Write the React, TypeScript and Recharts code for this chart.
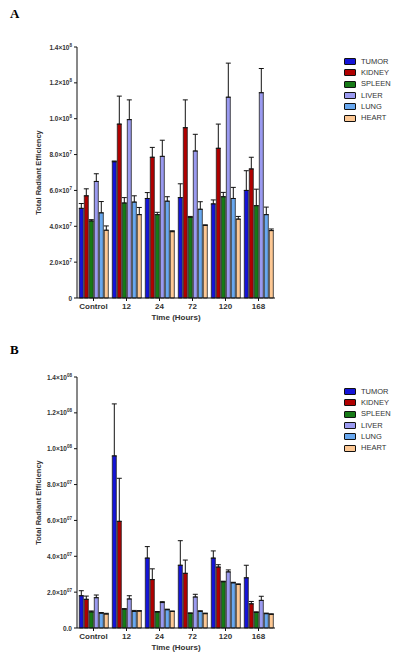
import { BarChart, Bar, XAxis, YAxis, ErrorBar, Legend } from "recharts"

const timePoints = ["Control", "12", "24", "72", "120", "168"]
const organs = ["TUMOR", "KIDNEY", "SPLEEN", "LIVER", "LUNG", "HEART"]
const organColors = ["#1414d8", "#b00000", "#167a16", "#9a9af0", "#68a8f0", "#fdc894"]
const yTicks = [0, 2e7, 4e7, 6e7, 8e7, 1e8, 1.2e8, 1.4e8]

// panel A, means (units of 1e6)
const tumorA = [50, 76, 55.5, 56, 52.5, 60]
const kidneyA = [57, 97, 78.5, 95, 83.5, 72]
const spleenA = [43, 53, 46.5, 45, 56.5, 51.5]
const liverA = [65, 99.5, 79, 82, 112, 114.5]
const lungA = [47.5, 53.5, 54, 49.5, 55.5, 46.5]
const heartA = [37.8, 46.5, 37, 40.5, 44, 37.6]

// panel A, error (units of 1e6)
const tumorAErr = [2.7, 0.4, 3.3, 7.7, 2.2, 11]
const kidneyAErr = [3.9, 15.6, 5.5, 15.5, 13.5, 6.5]
const spleenAErr = [0.7, 3, 1.3, 0.5, 2.4, 9.2]
const liverAErr = [4.3, 11, 9, 9.3, 19, 13.5]
const lungAErr = [6.3, 3.5, 2.5, 4.2, 6.2, 4.2]
const heartAErr = [2.4, 4, 0.5, 0.3, 1.5, 0.9]

// panel B, means (units of 1e6)
const tumorB = [18, 96, 39, 35, 39, 28]
const kidneyB = [16, 59.5, 27, 30.5, 34, 13.5]
const spleenB = [9, 10.5, 8.9, 8.2, 25.8, 8.7]
const liverB = [16.9, 16.2, 14.2, 17.3, 31.3, 15.4]
const lungB = [8.3, 9.2, 10.2, 9.3, 25.2, 8]
const heartB = [7.8, 9.4, 9.2, 8, 24.3, 7.6]

// panel B, error (units of 1e6)
const tumorBErr = [2.8, 29, 6.4, 13.7, 4, 7]
const kidneyBErr = [1.8, 24, 6, 7.4, 1.3, 1.3]
const spleenBErr = [0.5, 0.3, 0.3, 0.2, 0.3, 0.3]
const liverBErr = [1.5, 1.8, 0.5, 1.5, 1.1, 2.3]
const lungBErr = [0.3, 0.6, 0.3, 0.3, 0.3, 0.3]
const heartBErr = [0.4, 0.3, 0.3, 0.3, 0.3, 0.3]

const buildRows = (means: number[][], errs: number[][]) =>
  timePoints.map((t, i) => {
    const row: any = { time: t }
    organs.forEach((o, k) => {
      row[o] = means[k][i] * 1e6
      row[o + "_err"] = [0, errs[k][i] * 1e6]
    })
    return row
  })

const dataA = buildRows(
  [tumorA, kidneyA, spleenA, liverA, lungA, heartA],
  [tumorAErr, kidneyAErr, spleenAErr, liverAErr, lungAErr, heartAErr]
)
const dataB = buildRows(
  [tumorB, kidneyB, spleenB, liverB, lungB, heartB],
  [tumorBErr, kidneyBErr, spleenBErr, liverBErr, lungBErr, heartBErr]
)

const FONT = "'Liberation Sans', Arial, sans-serif"

const SciTick = (props: any) => {
  const { x, y, payload, padded } = props
  const v = payload.value
  if (v === 0) {
    return (
      <text x={x} y={y} dy={2.5} textAnchor="end" fontSize={6.5} fontWeight="bold" fill="#333" fontFamily={FONT}>
        {padded ? "0.0" : "0"}
      </text>
    )
  }
  const exp = Math.floor(Math.log10(v) + 1e-9)
  const m = v / Math.pow(10, exp)
  const expText = padded ? String(exp).padStart(2, "0") : String(exp)
  return (
    <text x={x} y={y} dy={2.5} textAnchor="end" fontSize={6.5} fontWeight="bold" fill="#333" fontFamily={FONT}>
      {m.toFixed(1)}×10
      <tspan dy={-3} fontSize={4.5}>{expText}</tspan>
    </text>
  )
}

const LegendBox = (props: any) => {
  const items = [...(props.payload || [])].sort(
    (a: any, b: any) => organs.indexOf(a.value) - organs.indexOf(b.value)
  )
  return (
    <div style={{ fontFamily: FONT }}>
      {items.map((p: any) => (
        <div key={p.value} style={{ display: "flex", alignItems: "center", height: 11.3 }}>
          <div style={{ width: 10, height: 5, background: p.color, border: "1px solid #111", borderRadius: 1 }} />
          <span style={{ fontSize: 7.5, color: "#333", marginLeft: 5, lineHeight: "8px" }}>{p.value}</span>
        </div>
      ))}
    </div>
  )
}

function Panel({ data, padded }: { data: any[]; padded: boolean }) {
  return (
    <BarChart
      width={400}
      height={330}
      data={data}
      margin={{ top: 47, right: 65, left: 0, bottom: 18 }}
      barCategoryGap="7%"
      barGap={1}
    >
      <XAxis
        dataKey="time"
        height={14}
        tickSize={3}
        stroke="#111"
        tick={{ fontSize: 8, fontWeight: "bold", fill: "#333", fontFamily: FONT }}
        label={{ value: "Time (Hours)", position: "bottom", offset: 2, fontSize: 8, fontWeight: "bold", fill: "#333", fontFamily: FONT }}
      />
      <YAxis
        width={77}
        domain={[0, 1.4e8]}
        ticks={yTicks}
        tickSize={3}
        stroke="#111"
        interval={0}
        tick={<SciTick padded={padded} />}
        label={{ value: "Total Radiant Efficiency", angle: -90, position: "center", fontSize: 7.5, fontWeight: "bold", fill: "#333", fontFamily: FONT }}
      />
      <Legend
        layout="vertical"
        verticalAlign="top"
        align="right"
        content={<LegendBox />}
        wrapperStyle={{ position: "absolute", left: 344, top: 56, width: 60 }}
      />
      {organs.map((o, k) => (
        <Bar key={o} dataKey={o} name={o} fill={organColors[k]} stroke="#222" strokeWidth={0.8} isAnimationActive={false}>
          <ErrorBar dataKey={o + "_err"} width={2.5} stroke="#111" strokeWidth={1} direction="y" />
        </Bar>
      ))}
    </BarChart>
  )
}

export default function App() {
  return (
    <div style={{ position: "absolute", left: 0, top: 0, width: 400, height: 655, background: "#fff" }}>
      <div style={{ position: "absolute", left: 10, top: 6, fontFamily: "'Liberation Serif', serif", fontWeight: "bold", fontSize: 13 }}>A</div>
      <div style={{ position: "absolute", left: 10, top: 342, fontFamily: "'Liberation Serif', serif", fontWeight: "bold", fontSize: 13 }}>B</div>
      <div style={{ position: "absolute", left: 0, top: 0 }}>
        <Panel data={dataA} padded={false} />
      </div>
      <div style={{ position: "absolute", left: 0, top: 330 }}>
        <Panel data={dataB} padded={true} />
      </div>
    </div>
  )
}
